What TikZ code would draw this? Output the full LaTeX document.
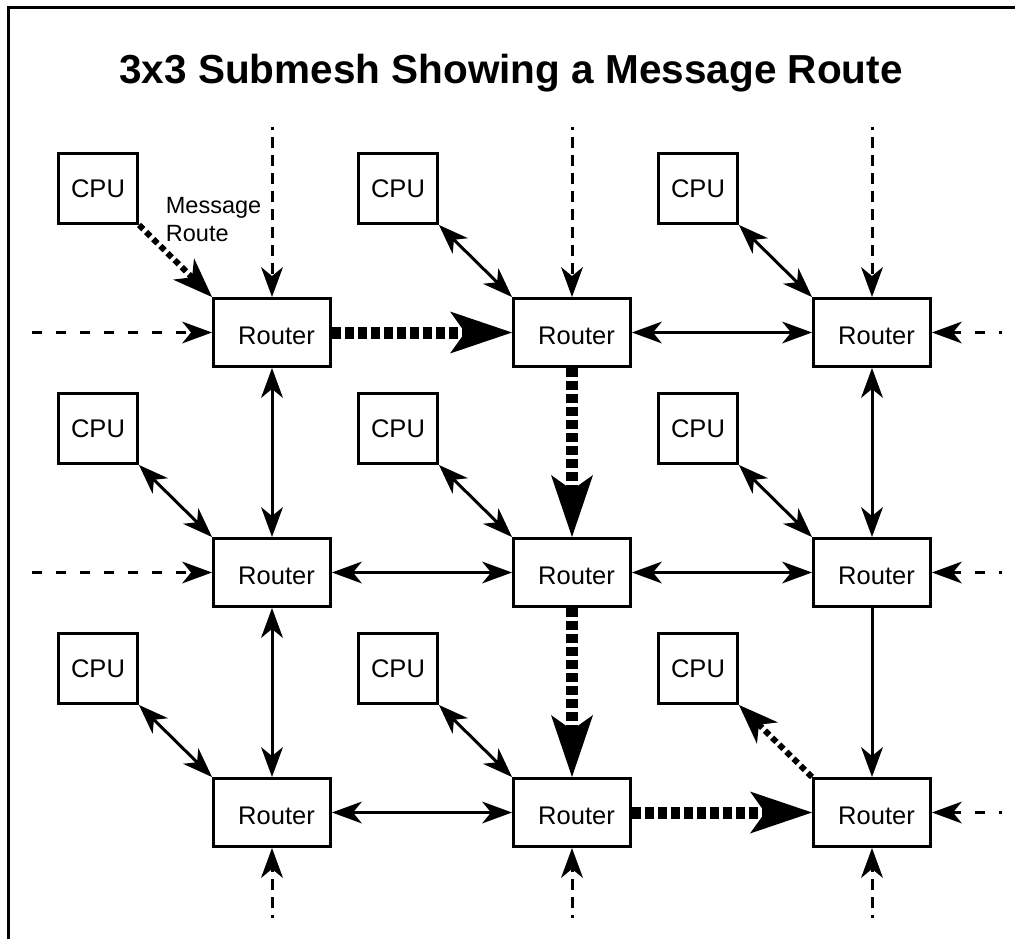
\documentclass[tikz,border=0pt]{standalone}
\usepackage{fontspec}
\setmainfont{Liberation Sans}
\usetikzlibrary{arrows.meta}

\tikzset{
  ThinHead/.tip={Stealth[length=30pt,width=22pt,inset=9pt,line width=0pt]},
  MidHead/.tip={Stealth[length=40pt,width=30pt,inset=12pt,line width=0pt]},
  BigHead/.tip={Stealth[length=62pt,width=42pt,inset=15pt,line width=0pt]},
  box/.style={draw, line width=3pt, inner sep=0pt, font=\fontsize{25.5}{30}\selectfont},
  router/.style={box, minimum width=117pt, minimum height=68pt,
    text height=24pt, text depth=0pt, execute at begin node={\hspace*{9pt}}},
  cpu/.style={box, minimum width=79pt, minimum height=70pt},
  link/.style={line width=3pt, arrows={ThinHead-ThinHead}},
  oneway/.style={line width=3pt, arrows={-ThinHead}},
  route/.style={line width=12pt, dash pattern=on 8.5pt off 4.5pt, arrows={-BigHead}},
  cpuroute/.style={line width=6pt, dash pattern=on 6pt off 4pt, arrows={-MidHead}},
  extv/.style={line width=3pt, dash pattern=on 11pt off 7pt, dash phase=8pt, arrows={-ThinHead}},
  exth/.style={line width=3pt, dash pattern=on 10pt off 14pt, arrows={-ThinHead}},
  exthr/.style={exth, dash phase=7pt},
}

\begin{document}
\begin{tikzpicture}[x=1pt,y=-1pt]
  \useasboundingbox (0,0) rectangle (1015,939);

  % page frame (top and left edges)
  \draw[line width=3pt] (8.5,939) -- (8.5,8) -- (1015,8);

  % title
  \node[font=\bfseries\fontsize{40.5}{48}\selectfont, anchor=base] (title) at (511,84)
    {3x3 Submesh Showing a Message Route};

  % routers
  \node[router] (R11) at (272,332.5) {Router};
  \node[router] (R12) at (572,332.5) {Router};
  \node[router] (R13) at (872,332.5) {Router};
  \node[router] (R21) at (272,572.5) {Router};
  \node[router] (R22) at (572,572.5) {Router};
  \node[router] (R23) at (872,572.5) {Router};
  \node[router] (R31) at (272,812.5) {Router};
  \node[router] (R32) at (572,812.5) {Router};
  \node[router] (R33) at (872,812.5) {Router};

  % processors
  \node[cpu] (C11) at (98,188.5) {CPU};
  \node[cpu] (C12) at (398,188.5) {CPU};
  \node[cpu] (C13) at (698,188.5) {CPU};
  \node[cpu] (C21) at (98,428.5) {CPU};
  \node[cpu] (C22) at (398,428.5) {CPU};
  \node[cpu] (C23) at (698,428.5) {CPU};
  \node[cpu] (C31) at (98,668.5) {CPU};
  \node[cpu] (C32) at (398,668.5) {CPU};
  \node[cpu] (C33) at (698,668.5) {CPU};

  % route label
  \node[anchor=north west, inner sep=0pt, align=left,
        font=\fontsize{23.5}{28.2}\selectfont] (msg) at (165.7,197) {Message\\Route};

  % loose ends of the mesh outside the submesh
  \coordinate (t1) at (272,127);  \coordinate (t2) at (572,127);  \coordinate (t3) at (872,127);
  \coordinate (b1) at (272,918);  \coordinate (b2) at (572,918);  \coordinate (b3) at (872,918);
  \coordinate (l1) at (32,332.5); \coordinate (l2) at (32,572.5);
  \coordinate (e1) at (1002,332.5); \coordinate (e2) at (1002,572.5); \coordinate (e3) at (1002,812.5);

  \draw[extv] (t1) -- (R11.north);
  \draw[extv] (t2) -- (R12.north);
  \draw[extv] (t3) -- (R13.north);
  \draw[extv] (b1) -- (R31.south);
  \draw[extv] (b2) -- (R32.south);
  \draw[extv] (b3) -- (R33.south);
  \draw[exth] (l1) -- (R11.west);
  \draw[exth] (l2) -- (R21.west);
  \draw[exthr] (e1) -- (R13.east);
  \draw[exthr] (e2) -- (R23.east);
  \draw[exthr] (e3) -- (R33.east);

  % router-to-router channels
  \draw[link] (R12.east) -- (R13.west);
  \draw[link] (R21.east) -- (R22.west);
  \draw[link] (R22.east) -- (R23.west);
  \draw[link] (R31.east) -- (R32.west);
  \draw[link] (R11.south) -- (R21.north);
  \draw[link] (R21.south) -- (R31.north);
  \draw[link] (R13.south) -- (R23.north);
  \draw[oneway] (R23.south) -- (R33.north);

  % processor-to-router channels
  \draw[link] (C12.south east) -- (R12.north west);
  \draw[link] (C13.south east) -- (R13.north west);
  \draw[link] (C21.south east) -- (R21.north west);
  \draw[link] (C22.south east) -- (R22.north west);
  \draw[link] (C23.south east) -- (R23.north west);
  \draw[link] (C31.south east) -- (R31.north west);
  \draw[link] (C32.south east) -- (R32.north west);

  % the message route
  \draw[cpuroute] (C11.south east) -- (R11.north west);
  \draw[route] (R11.east) -- (R12.west);
  \draw[route] (R12.south) -- (R22.north);
  \draw[route] (R22.south) -- (R32.north);
  \draw[route] (R32.east) -- (R33.west);
  \draw[cpuroute] (R33.north west) -- (C33.south east);
\end{tikzpicture}
\end{document}
